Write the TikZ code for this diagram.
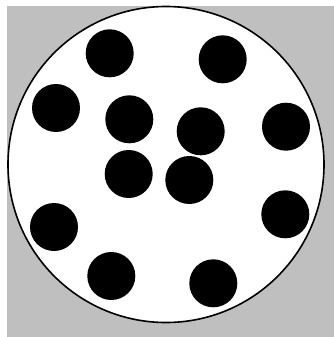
\documentclass[tikz,border=0pt]{standalone}
\begin{document}
\begin{tikzpicture}[x=1pt,y=-1pt,
  dot/.style={circle,fill=black,minimum size=48pt,inner sep=0pt},
  vessel/.style={circle,draw=black,fill=white,line width=1.6pt,minimum size=316pt,inner sep=0pt}]
\useasboundingbox (0,0) rectangle (334,337);
\fill[white] (0,0) rectangle (334,337);
\fill[black!25] (7,6) rectangle (334,337);
\node[vessel] (c) at (166,164.5) {};
\node[dot] (d1) at (109.7,53.3) {};
\node[dot] (d2) at (222.7,59.3) {};
\node[dot] (d3) at (56,108) {};
\node[dot] (d4) at (129.3,119.3) {};
\node[dot] (d5) at (200.7,131.3) {};
\node[dot] (d6) at (286,126.7) {};
\node[dot] (d7) at (128.7,174) {};
\node[dot] (d8) at (189.3,180) {};
\node[dot] (d9) at (54,227) {};
\node[dot] (d10) at (285.3,214.3) {};
\node[dot] (d11) at (111.3,276) {};
\node[dot] (d12) at (213.3,283.3) {};
\end{tikzpicture}
\end{document}
